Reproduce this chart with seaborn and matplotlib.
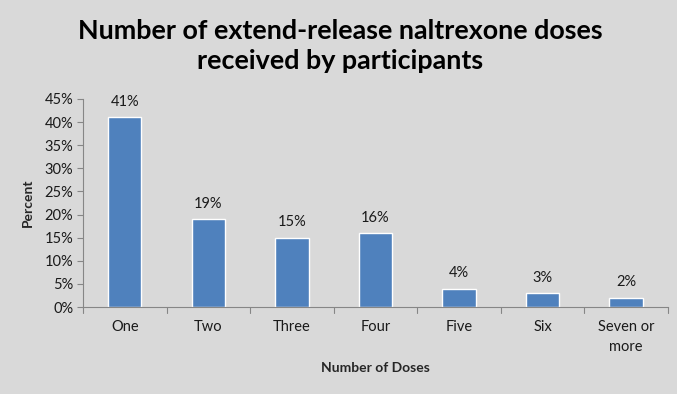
import matplotlib
matplotlib.use("Agg")
import matplotlib.pyplot as plt
import seaborn as sns
import pandas as pd
from matplotlib.ticker import PercentFormatter

sns.set_theme(style="white")
plt.rcParams['font.family'] = ['Lato', 'DejaVu Sans']

# data
doses = ["One", "Two", "Three", "Four", "Five", "Six", "Seven or\nmore"]
percent = [41, 19, 15, 16, 4, 3, 2]

bg = "#D9D9D9"
bar_color = "#4F81BD"
axis_color = "#868686"

df = pd.DataFrame({"doses": doses, "percent": percent})

fig = plt.figure(figsize=(6.77, 3.94), dpi=100, facecolor=bg)
ax = fig.add_axes([0.1226, 0.2208, 0.864, 0.528])
ax.set_facecolor(bg)

sns.barplot(data=df, x="doses", y="percent", color=bar_color, width=0.4,
            edgecolor="white", linewidth=1.0, saturation=1, ax=ax)

for i, v in enumerate(percent):
    ax.text(i, v + 1.8, f"{v}%", ha="center", va="bottom", fontsize=10.5, color="#1a1a1a")

ax.set_ylim(0, 45)
ax.set_xlim(-0.5, len(doses) - 0.5)
ax.set_yticks(range(0, 46, 5))
ax.yaxis.set_major_formatter(PercentFormatter(decimals=0))
ax.set_xticks(range(len(doses)))
ax.set_xticklabels(doses, fontsize=10.5, color="#1a1a1a", linespacing=1.6)
ax.tick_params(axis="y", labelsize=10.5, colors="#1a1a1a", length=4, width=0.8,
               direction="out", left=True, pad=3)
ax.tick_params(axis="x", length=0, pad=9)
ax.yaxis.set_tick_params(color=axis_color)

# category boundary ticks on the x axis
for b in [i - 0.5 for i in range(len(doses) + 1)]:
    ax.plot([b, b], [0, -1.2], color=axis_color, lw=0.8, clip_on=False)

for s in ["top", "right"]:
    ax.spines[s].set_visible(False)
for s in ["left", "bottom"]:
    ax.spines[s].set_color(axis_color)
    ax.spines[s].set_linewidth(0.8)

ax.set_xlabel("Number of Doses", fontsize=10, fontweight="bold", labelpad=6)
ax.set_ylabel("Percent", fontsize=10, fontweight="bold", labelpad=8)

fig.text(0.502, 0.883, "Number of extend-release naltrexone doses\nreceived by participants",
         ha="center", va="center", fontsize=19.4, fontweight="bold",
         linespacing=1.32, color="black")

fig.savefig("out.png", dpi=100, facecolor=bg)
